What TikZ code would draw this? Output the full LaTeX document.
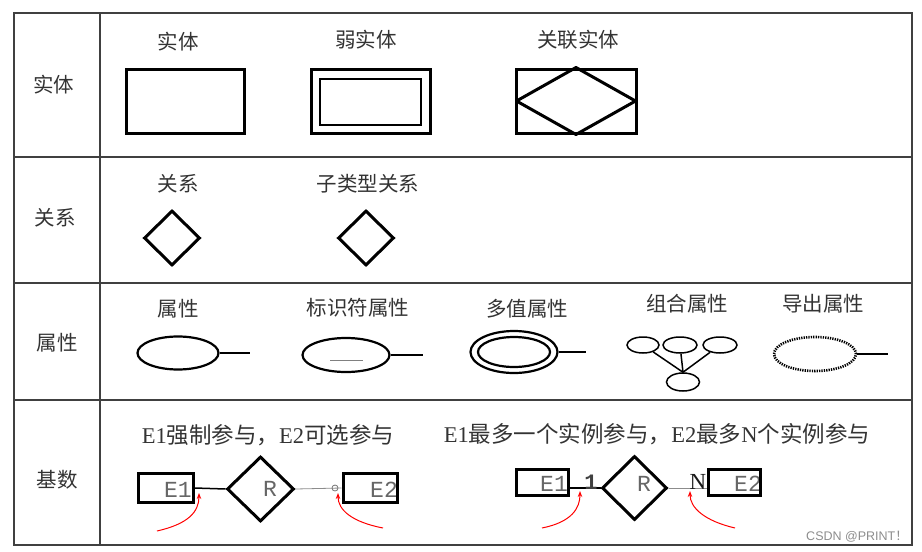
\documentclass[tikz,border=0pt]{standalone}
\usepackage{fontspec}
\setmainfont{Liberation Serif}
\newfontfamily\cjk{Noto Sans CJK SC}
\newfontfamily\monof{Liberation Mono}
\newfontfamily\sansf{Liberation Sans}
\usetikzlibrary{shapes.geometric,arrows.meta}
\tikzset{
  grid/.style={line width=1.4pt, draw=black!75},
  lbl/.style={font=\cjk\fontsize{20.5}{24}\selectfont, text=black!80, inner sep=0pt},
  mixed/.style={font=\fontsize{22.5}{26}\selectfont, text=black!80, inner sep=0pt},
  ent/.style={draw, rectangle, line width=3pt, inner sep=0pt},
  dia/.style={draw, diamond, line width=3pt, inner sep=0pt},
  att/.style={draw, ellipse, line width=2.2pt, inner sep=0pt},
  small/.style={draw, ellipse, line width=1.5pt, inner sep=0pt},
  monotxt/.style={font=\monof\fontsize{23}{23}\selectfont, text=black!60, inner sep=0pt},
  redarrow/.style={draw=red, line width=1pt, -{Stealth[length=6pt,width=4.5pt]}},
}
\begin{document}
\begin{tikzpicture}[x=1pt,y=-1pt]
\useasboundingbox (0,0) rectangle (922,552);
% table
\draw[grid] (14,13) rectangle (912,545);
\draw[grid] (100,13) -- (100,545);
\draw[grid] (14,157) -- (912,157);
\draw[grid] (14,283) -- (912,283);
\draw[grid] (14,400) -- (912,400);
% row labels
\node[lbl] (rl1) at (54,85) {实体};
\node[lbl] (rl2) at (55,218) {关系};
\node[lbl] (rl3) at (57,343) {属性};
\node[lbl] (rl4) at (57,480) {基数};
% entity row
\node[lbl] (t1) at (178,42) {实体};
\node[ent, minimum width=118pt, minimum height=64pt] (ent) at (185,101) {};
\node[lbl] (t2) at (366,40) {弱实体};
\node[ent, minimum width=119pt, minimum height=64pt] (wk) at (370.5,101) {};
\node[ent, line width=2.6pt, minimum width=101pt, minimum height=46pt] (wki) at (370.5,102) {};
\node[lbl] (t3) at (578,40) {关联实体};
\node[ent, minimum width=120pt, minimum height=64pt] (ae) at (576,101) {};
\draw[line width=3pt, line join=round] (ae.north) -- ([xshift=-2pt]ae.east) -- (ae.south) -- ([xshift=2pt]ae.west) -- cycle;
% relation row
\node[lbl] (t4) at (178,184) {关系};
\node[dia, minimum width=56pt, minimum height=55pt] (rel) at (172,238) {};
\node[lbl] (t5) at (368,184) {子类型关系};
\node[dia, minimum width=56pt, minimum height=55pt] (sub) at (366,238) {};
% attribute row
\node[lbl] (t6) at (178,309) {属性};
\node[att, minimum width=81pt, minimum height=33pt] (a1) at (178,353) {};
\coordinate (a1e) at (250,353);
\draw[line width=2.2pt] (a1.east) -- (a1e);
\node[lbl] (t7) at (358,308) {标识符属性};
\node[att, minimum width=87pt, minimum height=34pt] (id) at (346,355) {};
\coordinate (ide) at (423,355);
\draw[line width=2.2pt] (id.east) -- (ide);
\draw[black!50, line width=0.8pt] ([shift={(-16,5)}]id.center) -- ([shift={(17,5)}]id.center);
\node[lbl] (t8) at (527,309) {多值属性};
\node[att, minimum width=87pt, minimum height=42pt] (mv) at (514,352) {};
\node[att, minimum width=72pt, minimum height=30pt] (mvi) at (514,352) {};
\coordinate (mve) at (586,352);
\draw[line width=2.2pt] (mv.east) -- (mve);
\node[lbl] (t9) at (687,304) {组合属性};
\node[small, minimum width=32pt, minimum height=16pt] (c1) at (643,345) {};
\node[small, minimum width=34pt, minimum height=16pt] (c2) at (680,345) {};
\node[small, minimum width=34pt, minimum height=16pt] (c3) at (720,345) {};
\node[small, minimum width=33pt, minimum height=18pt] (c4) at (683,382) {};
\draw[line width=1.5pt] (c4.north) -- (c1);
\draw[line width=1.5pt] (c4.north) -- (c2);
\draw[line width=1.5pt] (c4.north) -- (c3);
\node[lbl] (t10) at (823,304) {导出属性};
\node[draw, ellipse, line width=2.6pt, dash pattern=on 1.3pt off 1.1pt, inner sep=0pt, minimum width=82pt, minimum height=34pt] (dv) at (815,354) {};
\coordinate (dve) at (888,354);
\draw[line width=2.2pt] (dv.east) -- (dve);
% cardinality row
\node[mixed] (t11) at (268,435) {E1{\cjk 强制参与，}E2{\cjk 可选参与}};
\node[mixed] (t12) at (657,434) {E1{\cjk 最多一个实例参与，}E2{\cjk 最多}N{\cjk 个实例参与}};
% diagram 1
\node[monotxt] (e1t) at (178,490) {E1};
\node[ent, minimum width=55pt, minimum height=29pt] (e1) at (165.5,488) {};
\node[monotxt] (e2t) at (384,490) {E2};
\node[ent, minimum width=54pt, minimum height=29pt] (e2) at (370,488) {};
\node[dia, minimum width=67pt, minimum height=65pt] (r1) at (260.5,489) {};
\node[monotxt] (r1t) at (270,489) {R};
\draw[line width=1.5pt] (e1.east) -- (r1.west);
\draw[black!45, line width=0.8pt] (r1.east) -- (e2.west);
\node[draw=black!55, circle, line width=0.8pt, inner sep=0pt, minimum size=6pt] (opt) at (335,488) {};
\coordinate (a1s) at (157,531);
\coordinate (a1t) at (199,493);
\draw[redarrow] (a1s) .. controls (188,524) and (199,512) .. (a1t);
\coordinate (a2s) at (383,528);
\coordinate (a2t) at (338,493);
\draw[redarrow] (a2s) .. controls (352,522) and (338,510) .. (a2t);
% diagram 2
\node[monotxt] (f1t) at (554,484) {E1};
\node[ent, minimum width=52pt, minimum height=26pt] (f1) at (542,482) {};
\node[monotxt] (f2t) at (748,484) {E2};
\node[ent, minimum width=52pt, minimum height=26pt] (f2) at (734,482) {};
\node[dia, minimum width=65pt, minimum height=64pt] (r2) at (634.5,488) {};
\node[monotxt] (r2t) at (644,484) {R};
\draw[line width=1.5pt] (f1.east |- r2.west) -- (r2.west);
\draw[black!45, line width=0.8pt] (r2.east) -- (f2.west |- r2.east);
\node[font=\monof\bfseries\fontsize{22}{22}\selectfont, text=black!75, inner sep=0pt] (one) at (591,482) {1};
\node[font=\fontsize{23}{23}\selectfont, text=black!90, inner sep=0pt] (nn) at (698,482) {N};
\coordinate (a3s) at (542,528);
\coordinate (a3t) at (580,491);
\draw[redarrow] (a3s) .. controls (572,522) and (580,508) .. (a3t);
\coordinate (a4s) at (735,528);
\coordinate (a4t) at (690,491);
\draw[redarrow] (a4s) .. controls (705,521) and (690,508) .. (a4t);
% watermark
\node[font=\sansf\fontsize{12.5}{12.5}\selectfont, text=black!45, inner sep=0pt, anchor=east] (wm) at (908,537) {CSDN @PRINT{\cjk ！}};
\end{tikzpicture}
\end{document}
